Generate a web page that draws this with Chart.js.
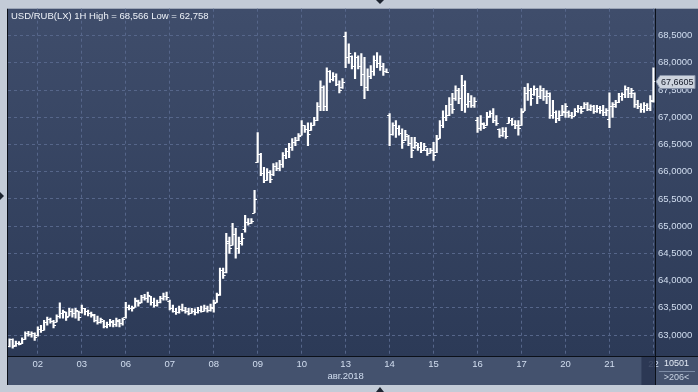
<!DOCTYPE html>
<html>
<head>
<meta charset="utf-8">
<script src="https://cdn.jsdelivr.net/npm/chart.js@4.4.1/dist/chart.umd.min.js"></script>
<style>
  html, body { margin: 0; padding: 0; background: #c3cbd7; }
  #wrap { width: 698px; height: 392px; }
</style>
</head>
<body>
<div id="wrap"><canvas id="chart" width="698" height="392"></canvas></div>
<script>
// USD/RUB(LX) hourly bars, 1-22 Aug 2018
const days = ['01', '02', '03', '06', '07', '08', '09', '10', '13', '14', '15', '16', '17', '20', '21', '22'];
const barsPerDay = [9, 14, 14, 14, 14, 14, 14, 14, 14, 14, 14, 14, 14, 14, 14, 1];
const monthDay = '13';
const monthLabel = 'авг.2018';

const openPrices = [
    62.80, 62.93, 62.82, 62.86, 62.85, 62.93, 63.04, 63.01, 63.03,
    63.00, 63.12, 63.10, 63.24, 63.30, 63.26, 63.24, 63.35, 63.40, 63.42, 63.35, 63.45, 63.40, 63.44,
    63.42, 63.50, 63.45, 63.40, 63.37, 63.28, 63.24, 63.26, 63.17, 63.20, 63.24, 63.20, 63.26, 63.22,
    63.33, 63.52, 63.49, 63.52, 63.62, 63.60, 63.70, 63.68, 63.72, 63.60, 63.56, 63.60, 63.68, 63.72,
    63.62, 63.50, 63.45, 63.42, 63.48, 63.46, 63.44, 63.41, 63.45, 63.42, 63.46, 63.44, 63.50, 63.46,
    63.50, 63.60, 63.75, 64.20, 64.15, 64.72, 64.65, 64.85, 64.60, 64.70, 64.95, 65.08, 65.05, 65.25,
    66.17, 66.33, 65.98, 65.85, 66.00, 65.95, 66.10, 66.06, 66.15, 66.30, 66.38, 66.45, 66.55, 66.58,
    66.68, 66.85, 66.78, 66.76, 66.86, 66.95, 67.20, 67.55, 67.20, 67.85, 67.70, 67.76, 67.62, 67.55,
    68.50, 68.10, 68.12, 67.95, 68.10, 67.95, 67.80, 67.55, 67.75, 67.85, 68.05, 68.00, 67.95, 67.85,
    67.05, 66.70, 66.85, 66.80, 66.72, 66.58, 66.65, 66.52, 66.45, 66.50, 66.45, 66.40, 66.40, 66.35,
    66.40, 66.36, 66.62, 66.85, 67.00, 67.05, 67.25, 67.35, 67.50, 67.35, 67.60, 67.25, 67.30, 67.22,
    66.95, 66.80, 66.88, 66.85, 67.02, 67.08, 66.95, 66.78, 66.68, 66.75, 66.90, 66.95, 66.88, 66.85,
    66.85, 67.12, 67.45, 67.50, 67.42, 67.52, 67.40, 67.50, 67.40, 67.40, 67.05, 67.10, 66.98, 67.05,
    67.10, 67.10, 67.05, 67.03, 67.12, 67.18, 67.18, 67.24, 67.16, 67.20, 67.12, 67.18, 67.14, 67.10,
    66.96, 67.20, 67.20, 67.28, 67.40, 67.42, 67.52, 67.45, 67.45, 67.25, 67.20, 67.15, 67.22, 67.18,
    67.30
];
const highPrices = [
    62.93, 62.93, 62.89, 62.88, 62.95, 63.06, 63.07, 63.06, 63.04,
    63.15, 63.18, 63.27, 63.33, 63.31, 63.27, 63.37, 63.59, 63.46, 63.42, 63.49, 63.48, 63.49, 63.44,
    63.55, 63.49, 63.46, 63.42, 63.38, 63.35, 63.31, 63.27, 63.24, 63.29, 63.27, 63.31, 63.29, 63.31,
    63.60, 63.55, 63.53, 63.68, 63.64, 63.73, 63.75, 63.79, 63.71, 63.68, 63.64, 63.71, 63.77, 63.79,
    63.64, 63.55, 63.49, 63.53, 63.57, 63.51, 63.49, 63.49, 63.48, 63.51, 63.53, 63.55, 63.53, 63.57,
    63.64, 63.77, 64.23, 64.23, 64.87, 64.80, 65.05, 64.96, 64.80, 64.87, 65.20, 65.14, 65.14, 65.66,
    66.72, 66.34, 66.08, 66.06, 66.02, 66.15, 66.17, 66.21, 66.35, 66.43, 66.52, 66.61, 66.63, 66.70,
    66.94, 66.85, 66.90, 66.90, 67.00, 67.27, 67.67, 67.58, 67.91, 67.86, 67.82, 67.80, 67.67, 67.71,
    68.566, 68.35, 68.13, 68.19, 68.13, 68.17, 68.10, 67.89, 67.95, 68.13, 68.19, 68.13, 67.99, 67.89,
    67.07, 66.90, 66.94, 66.85, 66.79, 66.76, 66.67, 66.63, 66.63, 66.52, 66.54, 66.52, 66.43, 66.43,
    66.54, 66.67, 66.94, 67.12, 67.22, 67.36, 67.44, 67.58, 67.53, 67.77, 67.67, 67.44, 67.40, 67.36,
    67.00, 67.03, 66.90, 67.09, 67.12, 67.16, 67.03, 66.79, 66.81, 66.81, 67.00, 66.98, 66.94, 66.94,
    67.16, 67.55, 67.62, 67.53, 67.58, 67.53, 67.58, 67.53, 67.49, 67.45, 67.31, 67.12, 67.12, 67.22,
    67.25, 67.12, 67.09, 67.16, 67.22, 67.20, 67.27, 67.27, 67.23, 67.22, 67.22, 67.20, 67.22, 67.16,
    67.45, 67.27, 67.31, 67.44, 67.45, 67.58, 67.55, 67.53, 67.45, 67.31, 67.25, 67.27, 67.25, 67.40,
    67.91
];
const lowPrices = [
    62.78, 62.758, 62.79, 62.82, 62.84, 62.92, 62.98, 62.96, 62.90,
    62.98, 63.05, 63.09, 63.18, 63.22, 63.13, 63.24, 63.31, 63.31, 63.27, 63.35, 63.33, 63.31, 63.27,
    63.40, 63.37, 63.35, 63.33, 63.24, 63.20, 63.22, 63.13, 63.13, 63.16, 63.15, 63.16, 63.15, 63.18,
    63.31, 63.46, 63.44, 63.51, 63.53, 63.59, 63.64, 63.60, 63.55, 63.51, 63.53, 63.59, 63.64, 63.64,
    63.46, 63.42, 63.38, 63.40, 63.44, 63.40, 63.37, 63.40, 63.37, 63.40, 63.42, 63.44, 63.42, 63.44,
    63.42, 63.60, 63.73, 64.04, 64.14, 64.50, 64.65, 64.41, 64.50, 64.65, 64.89, 65.02, 65.05, 65.25,
    66.17, 65.93, 65.80, 65.84, 65.80, 65.93, 66.02, 66.02, 66.08, 66.24, 66.26, 66.39, 66.48, 66.57,
    66.67, 66.72, 66.48, 66.76, 66.85, 66.94, 67.12, 67.12, 67.12, 67.64, 67.67, 67.58, 67.45, 67.53,
    67.91, 67.99, 67.89, 67.71, 67.89, 67.58, 67.34, 67.49, 67.71, 67.77, 67.91, 67.86, 67.77, 67.82,
    66.48, 66.67, 66.63, 66.67, 66.43, 66.57, 66.48, 66.26, 66.43, 66.39, 66.35, 66.39, 66.30, 66.34,
    66.21, 66.35, 66.61, 66.81, 66.94, 67.03, 67.07, 67.31, 67.25, 67.12, 67.09, 67.18, 67.18, 67.18,
    66.72, 66.76, 66.79, 66.85, 67.00, 66.90, 66.85, 66.63, 66.65, 66.61, 66.89, 66.85, 66.79, 66.67,
    66.85, 67.12, 67.31, 67.22, 67.40, 67.25, 67.34, 67.31, 67.25, 66.98, 66.98, 66.90, 66.94, 67.03,
    67.00, 67.00, 66.98, 67.03, 67.09, 67.07, 67.16, 67.12, 67.12, 67.07, 67.09, 67.07, 67.03, 67.03,
    66.81, 67.00, 67.18, 67.27, 67.31, 67.36, 67.36, 67.36, 67.18, 67.16, 67.09, 67.09, 67.12, 67.12,
    67.28
];
const closePrices = [
    62.93, 62.80, 62.86, 62.84, 62.93, 63.04, 63.01, 63.03, 62.96,
    63.12, 63.09, 63.24, 63.30, 63.26, 63.18, 63.35, 63.40, 63.44, 63.33, 63.45, 63.40, 63.46, 63.33,
    63.50, 63.45, 63.40, 63.38, 63.28, 63.24, 63.29, 63.17, 63.20, 63.25, 63.20, 63.27, 63.22, 63.29,
    63.52, 63.49, 63.50, 63.64, 63.58, 63.70, 63.68, 63.74, 63.60, 63.56, 63.60, 63.68, 63.72, 63.70,
    63.50, 63.45, 63.42, 63.48, 63.46, 63.44, 63.41, 63.45, 63.42, 63.46, 63.44, 63.50, 63.46, 63.52,
    63.58, 63.74, 64.20, 64.10, 64.70, 64.60, 64.85, 64.60, 64.72, 64.78, 65.08, 65.05, 65.10, 65.50,
    66.33, 65.98, 65.85, 66.00, 65.86, 66.10, 66.06, 66.15, 66.30, 66.38, 66.45, 66.55, 66.58, 66.66,
    66.85, 66.78, 66.70, 66.86, 66.95, 67.20, 67.55, 67.20, 67.85, 67.70, 67.76, 67.62, 67.50, 67.65,
    68.10, 68.19, 67.95, 68.10, 67.95, 67.80, 67.55, 67.75, 67.85, 68.05, 68.00, 67.95, 67.85, 67.84,
    66.70, 66.85, 66.80, 66.72, 66.55, 66.70, 66.52, 66.40, 66.55, 66.45, 66.40, 66.48, 66.35, 66.40,
    66.30, 66.60, 66.85, 67.00, 67.05, 67.25, 67.15, 67.50, 67.35, 67.60, 67.25, 67.30, 67.22, 67.30,
    66.80, 66.90, 66.82, 67.00, 67.08, 66.95, 66.90, 66.68, 66.75, 66.66, 66.95, 66.88, 66.85, 66.80,
    67.10, 67.45, 67.50, 67.35, 67.52, 67.40, 67.50, 67.40, 67.45, 67.05, 67.10, 66.98, 67.05, 67.12,
    67.20, 67.05, 67.02, 67.12, 67.18, 67.12, 67.24, 67.16, 67.20, 67.12, 67.18, 67.14, 67.10, 67.14,
    67.20, 67.24, 67.28, 67.40, 67.42, 67.52, 67.45, 67.50, 67.25, 67.20, 67.15, 67.22, 67.18, 67.32,
    67.6605
];
const yTicks = [63.0, 63.5, 64.0, 64.5, 65.0, 65.5, 66.0, 66.5, 67.0, 67.5, 68.0, 68.5];
const periodHigh = 68.566;
const periodLow = 62.758;
const lastPrice = 67.6605;
const barCount = '10501';
const visibleBars = '>206<';

// one category per hourly bar, day name on the first bar of each day
const labels = [];
days.forEach((d, k) => {
    for (let j = 0; j < barsPerDay[k]; j++) labels.push(j === 0 && k > 0 ? d : '');
});

const fmt = v => v.toFixed(4).replace('.', ',');
const FONT = '"Liberation Sans", Arial, sans-serif';

// background, frame and the open/close ticks
const chrome = {
    id: 'chrome',
    beforeDraw(chart) {
        const { ctx, chartArea: a, width } = chart;
        const xs = chart.scales.x;
        ctx.save();
        ctx.fillStyle = '#c3cbd7';
        ctx.fillRect(0, 0, chart.width, chart.height);
        const g = ctx.createLinearGradient(0, a.top, 0, a.bottom);
        g.addColorStop(0, '#3f4d6b');
        g.addColorStop(1, '#2c3a57');
        ctx.fillStyle = g;
        ctx.fillRect(a.left, a.top, width - a.left, a.bottom - a.top);
        ctx.fillStyle = '#44526e';
        ctx.fillRect(a.left, a.bottom, width - a.left, xs.bottom - a.bottom);
        ctx.restore();
    },
    afterDatasetsDraw(chart) {
        const { ctx } = chart;
        const xs = chart.scales.x, ys = chart.scales.y;
        ctx.save();
        ctx.strokeStyle = '#ffffff';
        ctx.lineWidth = 1.2;
        ctx.beginPath();
        for (let i = 0; i < openPrices.length; i++) {
            const x = xs.getPixelForValue(i);
            const yo = Math.round(ys.getPixelForValue(openPrices[i])) + 0.5;
            const yc = Math.round(ys.getPixelForValue(closePrices[i])) + 0.5;
            ctx.moveTo(x - 2.5, yo);
            ctx.lineTo(x, yo);
            ctx.moveTo(x, yc);
            ctx.lineTo(x + 2.5, yc);
        }
        ctx.stroke();
        ctx.restore();
    },
    afterDraw(chart) {
        const { ctx, chartArea: a, width } = chart;
        const xs = chart.scales.x, ys = chart.scales.y;
        ctx.save();

        // title
        ctx.font = '9.5px ' + FONT;
        ctx.fillStyle = '#eef2f8';
        ctx.textBaseline = 'middle';
        ctx.textAlign = 'left';
        ctx.fillText('USD/RUB(LX) 1H High = ' + String(periodHigh).replace('.', ',') +
            ' Low = ' + String(periodLow).replace('.', ','), a.left + 3, a.top + 8);

        // dark box over the last, unfinished day
        const xl = xs.getPixelForValue(openPrices.length - 1);
        ctx.fillStyle = 'rgba(40, 52, 80, 0.85)';
        ctx.fillRect(xl - 12, a.bottom + 1, a.right - xl + 12, xs.bottom - a.bottom - 1);

        // separators
        ctx.strokeStyle = '#0b1019';
        ctx.lineWidth = 1;
        ctx.beginPath();
        ctx.moveTo(a.right + 0.5, a.top);
        ctx.lineTo(a.right + 0.5, xs.bottom);
        ctx.moveTo(a.left, a.bottom + 0.5);
        ctx.lineTo(width, a.bottom + 0.5);
        ctx.moveTo(a.left - 0.5, a.top);
        ctx.lineTo(a.left - 0.5, xs.bottom);
        ctx.stroke();

        // bar counter box
        ctx.font = '9px ' + FONT;
        const cx = (a.right + width) / 2;
        ctx.fillStyle = '#e4ebf5';
        ctx.textAlign = 'center';
        ctx.fillText(barCount, cx, a.bottom + 8);
        ctx.strokeStyle = '#7d8ca6';
        ctx.beginPath();
        ctx.moveTo(a.right + 4, a.bottom + 15.5);
        ctx.lineTo(width - 3, a.bottom + 15.5);
        ctx.stroke();
        ctx.fillStyle = '#c9d4e4';
        ctx.fillText(visibleBars, cx, a.bottom + 22);

        // last price marker
        const yp = Math.round(ys.getPixelForValue(lastPrice)) + 0.5;
        ctx.fillStyle = '#cdd4de';
        ctx.strokeStyle = '#8793a8';
        ctx.beginPath();
        ctx.moveTo(a.right + 1, yp);
        ctx.lineTo(a.right + 5, yp - 6);
        ctx.lineTo(width - 3, yp - 6);
        ctx.lineTo(width - 3, yp + 7);
        ctx.lineTo(a.right + 5, yp + 7);
        ctx.closePath();
        ctx.fill();
        ctx.stroke();
        ctx.fillStyle = '#141a28';
        ctx.textAlign = 'left';
        ctx.fillText(fmt(lastPrice), a.right + 6, yp + 1);

        // scroll arrows on the frame
        ctx.fillStyle = '#1d2430';
        ctx.beginPath();
        ctx.moveTo(376, 0); ctx.lineTo(384, 0); ctx.lineTo(380, 4); ctx.closePath();
        ctx.moveTo(376, 392); ctx.lineTo(384, 392); ctx.lineTo(380, 387); ctx.closePath();
        ctx.moveTo(0, 192); ctx.lineTo(4, 196); ctx.lineTo(0, 200); ctx.closePath();
        ctx.fill();
        ctx.restore();
    }
};

const ctx = document.getElementById('chart').getContext('2d');
const usdRubChart = new Chart(ctx, {
    type: 'bar',
    data: {
        labels: labels,
        datasets: [{
            data: lowPrices.map((l, i) => [l, highPrices[i]]),
            backgroundColor: '#ffffff',
            borderWidth: 0,
            barThickness: 1.5
        }]
    },
    options: {
        responsive: false,
        animation: false,
        events: [],
        layout: {
            autoPadding: false,
            padding: { left: 8, top: 8, right: 0, bottom: 7 }
        },
        scales: {
            x: {
                grid: {
                    offset: false,
                    drawTicks: false,
                    color: c => labels[c.index] ? '#56668a' : 'transparent'
                },
                border: { display: false, dash: [3, 3] },
                ticks: {
                    autoSkip: false,
                    maxRotation: 0,
                    padding: 3,
                    color: '#d2def0',
                    font: { family: FONT, size: 9.5 },
                    callback: (v, i) => labels[i] === monthDay ? [labels[i], monthLabel] : labels[i]
                },
                afterFit: s => { s.height = 29; }
            },
            y: {
                position: 'right',
                min: 62.615,
                max: 68.995,
                grid: { drawTicks: false, color: '#56668a' },
                border: { display: false, dash: [3, 3] },
                afterBuildTicks: s => { s.ticks = yTicks.map(v => ({ value: v })); },
                ticks: {
                    padding: 3,
                    color: '#d2def0',
                    font: { family: FONT, size: 9.5 },
                    callback: v => fmt(v)
                },
                afterFit: s => { s.width = 43; }
            }
        },
        plugins: {
            legend: { display: false },
            tooltip: { enabled: false }
        }
    },
    plugins: [chrome]
});
</script>
</body>
</html>
